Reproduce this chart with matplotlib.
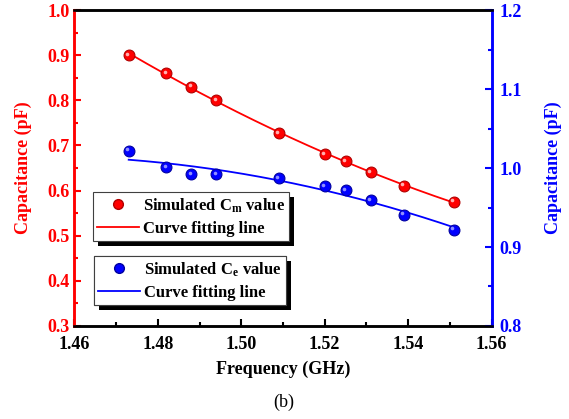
import numpy as np
import matplotlib
matplotlib.use("Agg")
import matplotlib.pyplot as plt
import matplotlib.patches as mpatches
from matplotlib.lines import Line2D
from matplotlib.transforms import offset_copy

plt.rcParams["font.family"] = ["Liberation Serif", "DejaVu Serif"]
plt.rcParams["font.weight"] = "bold"
plt.rcParams["mathtext.fontset"] = "custom"
plt.rcParams["mathtext.rm"] = "Liberation Serif:bold"
plt.rcParams["mathtext.it"] = "Liberation Serif:bold"

# values
freq = [1.473, 1.482, 1.488, 1.494, 1.509, 1.520, 1.525, 1.531, 1.539, 1.551]
cm_sim = [0.900, 0.860, 0.830, 0.800, 0.727, 0.681, 0.665, 0.641, 0.611, 0.575]
ce_sim = [1.022, 1.001, 0.992, 0.992, 0.987, 0.977, 0.972, 0.959, 0.941, 0.922]

RED = "#ff0000"
BLUE = "#0000ff"

f = np.array(freq)
ff = np.linspace(f.min(), f.max(), 200)
cm_fit = np.polyval(np.polyfit(f, cm_sim, 2), ff)
ce_fit = np.polyval(np.polyfit(f, ce_sim, 2), ff)

fig = plt.figure(figsize=(5.69, 4.19), dpi=100)
ax = fig.add_axes([0.1309, 0.222, 0.7329, 0.754])
ax2 = ax.twinx()


def balls(a, x, y, face, edge, shine):
    a.plot(x, y, "o", ms=7.8, mfc=face, mec=edge, mew=0.8, zorder=3)
    tr = offset_copy(a.transData, fig=fig, x=-1.1, y=1.1, units="points")
    a.plot(x, y, "o", ms=2.6, mfc=shine, mec="none", transform=tr, zorder=4)


ax.plot(ff, cm_fit, color=RED, lw=1.3, zorder=2)
balls(ax, freq, cm_sim, RED, "#b00000", "#ffb0b0")
ax2.plot(ff, ce_fit, color=BLUE, lw=1.3, zorder=2)
balls(ax2, freq, ce_sim, BLUE, "#0000a0", "#9090ff")

ax.set_xlim(1.46, 1.56)
ax.set_ylim(0.3, 1.0)
ax2.set_ylim(0.8, 1.2)
ax.set_xticks(np.arange(1.46, 1.5601, 0.02))
ax.set_xticks(np.arange(1.47, 1.56, 0.02), minor=True)
ax.set_yticks(np.arange(0.3, 1.001, 0.1))
ax.set_yticks(np.arange(0.35, 1.0, 0.1), minor=True)
ax2.set_yticks(np.arange(0.8, 1.201, 0.1))
ax2.set_yticks(np.arange(0.85, 1.2, 0.1), minor=True)
ax.xaxis.set_major_formatter(plt.FormatStrFormatter("%.2f"))
ax.yaxis.set_major_formatter(plt.FormatStrFormatter("%.1f"))
ax2.yaxis.set_major_formatter(plt.FormatStrFormatter("%.1f"))

for a in (ax, ax2):
    for s in a.spines.values():
        s.set_linewidth(1.8)
    a.spines["top"].set_color("black")
    a.spines["bottom"].set_color("black")
    a.spines["left"].set_color(RED)
    a.spines["right"].set_color(BLUE)

ax.tick_params(axis="x", which="major", direction="in", length=5, width=1.5, labelsize=13, pad=7)
ax.tick_params(axis="x", which="minor", direction="in", length=3, width=1.5)
ax.tick_params(axis="y", which="both", direction="in", colors=RED, width=1.5, labelsize=13)
ax.tick_params(axis="y", which="major", length=5)
ax.tick_params(axis="y", which="minor", length=3)
ax2.tick_params(axis="y", which="both", direction="in", colors=BLUE, width=1.5, labelsize=13, pad=6)
ax2.tick_params(axis="y", which="major", length=5)
ax2.tick_params(axis="y", which="minor", length=3)

ax.set_xlabel("Frequency (GHz)", fontsize=13, fontweight="bold", labelpad=6)
ax.set_ylabel("Capacitance (pF)", fontsize=13, fontweight="bold", color=RED, labelpad=11)
ax2.set_ylabel("Capacitance (pF)", fontsize=13, fontweight="bold", color=BLUE, labelpad=16)

fig.text(0.499, 0.04, "(b)", fontsize=13, fontweight="normal", ha="center", va="center")

# two legend boxes with a black drop shadow
h1 = [Line2D([], [], ls="none", marker="o", ms=7, mfc=RED, mec="#b00000"),
      Line2D([], [], color=RED, lw=1.3)]
l1 = ["Simulated C$_\\mathrm{m}$ value", "Curve fitting line"]
h2 = [Line2D([], [], ls="none", marker="o", ms=7, mfc=BLUE, mec="#0000a0"),
      Line2D([], [], color=BLUE, lw=1.3)]
l2 = ["Simulated C$_\\mathrm{e}$ value", "Curve fitting line"]

legs = []
for h, l, anchor in ((h1, l1, (93 / 569, 1 - 192 / 419)), (h2, l2, (94 / 569, 1 - 256 / 419))):
    leg = ax2.legend(h, l, loc="upper left", bbox_to_anchor=anchor,
                     bbox_transform=fig.transFigure, fontsize=12, frameon=True,
                     fancybox=False, edgecolor="#404040", framealpha=1,
                     handlelength=2.5, handletextpad=0.25, labelspacing=0.4,
                     borderpad=0.25, borderaxespad=0)
    leg.get_frame().set_linewidth(0.8)
    leg.set_zorder(10)
    ax2.add_artist(leg)
    legs.append(leg)

fig.canvas.draw()
inv = fig.transFigure.inverted()
for leg in legs:
    bb = leg.get_window_extent()
    x0, y0 = inv.transform((bb.x0 + 5, bb.y0 - 5))
    x1, y1 = inv.transform((bb.x1 + 5, bb.y1 - 5))
    ax2.add_artist(mpatches.Rectangle((x0, y0), x1 - x0, y1 - y0, transform=fig.transFigure,
                                      facecolor="black", edgecolor="none", zorder=9))

fig.savefig("out.png", dpi=100)
